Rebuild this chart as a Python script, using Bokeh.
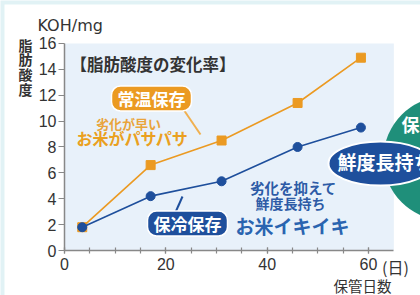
from bokeh.plotting import figure
from bokeh.models import Range1d, FixedTicker, Label
from bokeh.embed import file_html
from bokeh.resources import INLINE

# ---- data ----
days = [3.5, 17, 31, 46, 58.5]
room_temp = [1.8, 6.6, 8.5, 11.4, 14.9]   # 常温保存
cold = [1.8, 4.2, 5.35, 8.0, 9.5]         # 保冷保存
y_ticks = [0, 2, 4, 6, 8, 10, 12, 14, 16]
x_ticks = [0, 20, 40, 60]
x_minor = [0, 5, 10, 15, 20, 25, 30, 35, 40, 45, 50, 55, 60]

JP = "Noto Sans CJK JP"
LAT = "Liberation Sans"
ORANGE = "#eb9a22"
BLUE = "#1e4f9c"

W, H = 420, 295
X0, Y0 = 64, 250          # canvas position of the data origin
SX, SY = 5.067, 12.94     # pixels per data unit


def dx(px):
    return (px - X0) / SX


def dy(py):
    return (Y0 - py) / SY


p = figure(width=W, height=H, output_backend="svg", toolbar_location=None,
           x_range=Range1d(dx(0), dx(W)), y_range=Range1d(dy(H), dy(0)),
           min_border_left=0, min_border_right=0, min_border_top=0, min_border_bottom=0)
p.outline_line_color = None
p.background_fill_color = "#e1f2f5"
p.border_fill_color = "white"
p.xgrid.visible = False
p.ygrid.visible = False

# axes, fixed at the origin
p.xaxis.fixed_location = 0
p.yaxis.fixed_location = 0
p.xaxis.ticker = FixedTicker(ticks=x_ticks, minor_ticks=x_minor)
p.yaxis.ticker = FixedTicker(ticks=y_ticks, minor_ticks=[])
p.xaxis.bounds = (0, 65)
p.yaxis.bounds = (0, 16)
for ax in (p.xaxis, p.yaxis):
    ax.axis_line_color = "#888888"
    ax.axis_line_width = 1.5
    ax.major_tick_line_color = "#888888"
    ax.minor_tick_line_color = "#888888"
    ax.major_tick_line_width = 1.2
    ax.minor_tick_line_width = 1.2
    ax.major_label_text_font = LAT
    ax.major_label_text_font_size = "16px"
    ax.major_label_text_color = "#333333"
p.xaxis.major_tick_in = 3
p.xaxis.major_tick_out = 3
p.xaxis.minor_tick_in = 3
p.xaxis.minor_tick_out = 3
p.xaxis.major_label_standoff = 4
p.yaxis.major_tick_in = 0
p.yaxis.major_tick_out = 6
p.yaxis.major_label_standoff = 2

# white panel and plot area background
p.quad(left=[dx(4)], right=[dx(440)], bottom=[dy(320)], top=[dy(4)],
       fill_color="white", line_color=None, level="underlay")
p.quad(left=[0], right=[65], bottom=[0], top=[16], fill_color="#e8f1fa", line_color=None, level="underlay")

# right-side decoration
p.scatter(x=[dx(445)], y=[dy(158)], size=124, marker="circle", fill_color="#1f8f7a", line_color=None)
p.ellipse(x=[dx(380)], y=[dy(163)], width=104, height=44, width_units="screen", height_units="screen",
          fill_color=BLUE, line_color="white", line_width=2)

# leader lines
p.segment(x0=[dx(183)], y0=[dy(109)], x1=[dx(200)], y1=[dy(134)], line_color="#f0b050", line_width=2)
p.segment(x0=[dx(174)], y0=[dy(214)], x1=[dx(182)], y1=[dy(196)], line_color=BLUE, line_width=2)

# data series
p.line(days, room_temp, line_color=ORANGE, line_width=1.6)
p.scatter(days, room_temp, marker="square", size=9, fill_color=ORANGE, line_color=ORANGE)
p.line(days, cold, line_color=BLUE, line_width=1.6)
p.scatter(days, cold, marker="circle", size=9, fill_color=BLUE, line_color=BLUE)


def lab(px, py, text, size, color, font=JP, bold=False, align="center", baseline="middle", **kw):
    p.add_layout(Label(x=dx(px), y=dy(py), text=text, text_font=font, text_font_size=size,
                       text_color=color, text_font_style="bold" if bold else "normal",
                       text_align=align, text_baseline=baseline, **kw))


lab(37, 25, "KOH/mg", "16px", "#333333", font="DejaVu Sans", align="left")
for i, ch in enumerate("脂肪酸度"):
    lab(25, 44 + 14.8 * i, ch, "14px", "#333333", bold=True)
lab(70, 63, "【脂肪酸度の変化率】", "16.5px", "#333333", bold=True, align="left")

lab(151, 98, "常温保存", "17px", "white", bold=True,
    background_fill_color=ORANGE, border_line_color="white", border_line_width=1.5,
    border_radius=9, padding=(6, 0))
lab(128, 123, "劣化が早い", "13px", "#e9a43c", bold=True)
lab(132, 137, "お米がパサパサ", "16px", "#eaa020", bold=True)

lab(187, 223, "保冷保存", "17px", "white", bold=True,
    background_fill_color=BLUE, border_line_color="white", border_line_width=1.5,
    border_radius=9, padding=(6, 0))
lab(293, 187, "劣化を抑えて", "14.5px", "#2d5ba6", bold=True)
lab(290, 202, "鮮度長持ち", "14px", "#2d5ba6", bold=True)
lab(292, 225, "お米イキイキ", "19px", "#2a64b0", bold=True)

lab(337, 161, "鮮度長持ち", "19px", "white", bold=True, align="left")
lab(410, 123, "保", "18px", "white", bold=True)

lab(395, 266, "(日)", "16px", "#333333")
lab(362, 285, "保管日数", "14.5px", "#333333")

open("out.html", "w").write(file_html(p, INLINE))
